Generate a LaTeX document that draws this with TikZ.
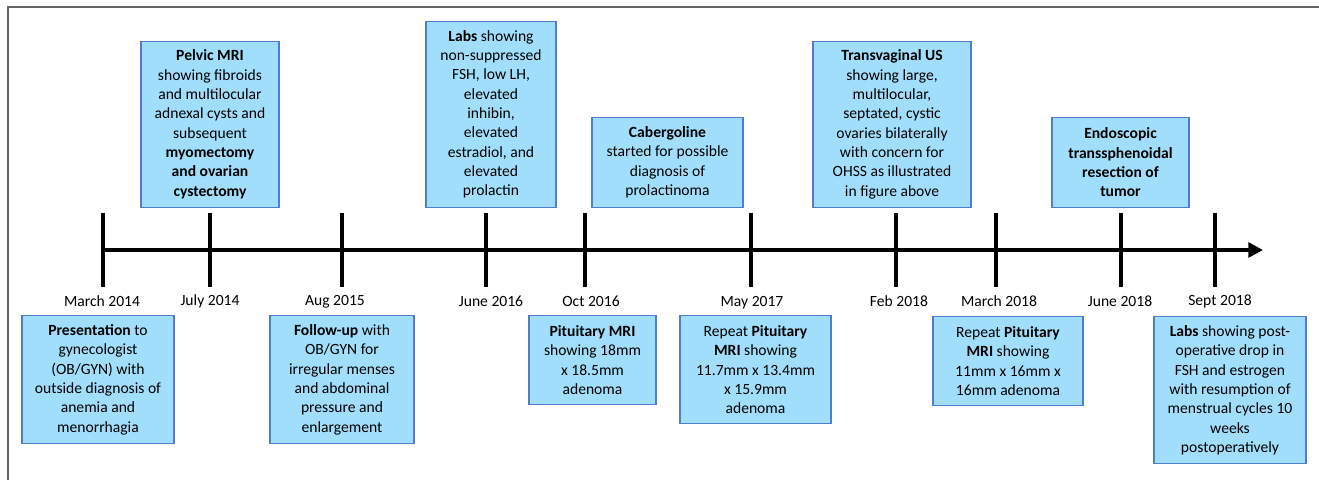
\documentclass[tikz,border=0pt]{standalone}
\usepackage{fontspec}
\setmainfont{Carlito}
\usepackage{xcolor}
\usetikzlibrary{arrows.meta,positioning}
\definecolor{eventfill}{RGB}{160, 222, 251}
\definecolor{eventdraw}{RGB}{79, 124, 205}
\definecolor{framegray}{RGB}{102, 102, 102}
\newcommand{\px}{0.75pt}

\begin{document}
\begin{tikzpicture}[x=0.75pt, y=-0.75pt,
    event/.style={draw=eventdraw, fill=eventfill, line width=1pt, align=center,
                  inner sep=2pt, font=\fontsize{11.7}{14.5}\selectfont},
    datelabel/.style={font=\fontsize{11.7}{14.5}\selectfont, inner sep=1pt},
    tick/.style={line width=3pt}]
  \useasboundingbox (0,0) rectangle (1319,480);
  \draw[framegray, line width=1.5pt] (8,480) -- (8,7) -- (1319,7);

  % timeline
  \coordinate (tstart) at (103,250);
  \coordinate (tend) at (1263,250);
  \draw[line width=3pt, -{Triangle[length=11pt, width=11pt]}] (tstart) -- (tend);
  \foreach \x in {103,210,342,486,585,751,896,996,1121,1215}
    \draw[tick] (\x,213) -- (\x,287);

  % dates
  \node[datelabel] (mar14) at (102,301) {March 2014};
  \node[datelabel] (jul14) at (210,301) {July 2014};
  \node[datelabel] (aug15) at (335,302) {Aug 2015};
  \node[datelabel] (jun16) at (491,301) {June 2016};
  \node[datelabel] (oct16) at (591,301) {Oct 2016};
  \node[datelabel] (may17) at (752,303) {May 2017};
  \node[datelabel] (feb18) at (899,301) {Feb 2018};
  \node[datelabel] (mar18) at (999,301) {March 2018};
  \node[datelabel] (jun18) at (1120,301) {June 2018};
  \node[datelabel] (sep18) at (1220,301) {Sept 2018};

  % events above the line
  \node[event, anchor=south, minimum width=138*\px, minimum height=166*\px] (pelvic) at (210,208)
    {\textbf{Pelvic MRI}\\showing fibroids\\and multilocular\\adnexal cysts and\\subsequent\\
     \textbf{myomectomy}\\\textbf{and ovarian}\\\textbf{cystectomy}};
  \node[event, anchor=south, minimum width=130*\px, minimum height=186*\px] (labsA) at (491,208)
    {\textbf{Labs} showing\\non-suppressed\\FSH, low LH,\\elevated\\inhibin,\\elevated\\
     estradiol, and\\elevated\\prolactin};
  \node[event, anchor=south, minimum width=151*\px, minimum height=90*\px] (caber) at (667.5,208)
    {\textbf{Cabergoline}\\started for possible\\diagnosis of\\prolactinoma};
  \node[event, anchor=south, minimum width=158*\px, minimum height=166*\px] (tvus) at (892,208)
    {\textbf{Transvaginal US}\\showing large,\\multilocular,\\septated, cystic\\
     ovaries bilaterally\\with concern for\\OHSS as illustrated\\in figure above};
  \node[event, anchor=south, minimum width=137*\px, minimum height=90*\px] (endo) at (1120.5,208)
    {\textbf{Endoscopic}\\\textbf{transsphenoidal}\\\textbf{resection of}\\\textbf{tumor}};

  % events below the line
  \node[event, anchor=north, minimum width=152*\px, minimum height=128*\px] (present) at (98,315)
    {\textbf{Presentation} to\\gynecologist\\(OB/GYN) with\\outside diagnosis of\\anemia and\\menorrhagia};
  \node[event, anchor=north, minimum width=144*\px, minimum height=128*\px] (followup) at (342,315)
    {\textbf{Follow-up} with\\OB/GYN for\\irregular menses\\and abdominal\\pressure and\\enlargement};
  \node[event, anchor=north, minimum width=127*\px, minimum height=89*\px] (pitmri) at (592.5,315)
    {\textbf{Pituitary MRI}\\showing 18mm\\x 18.5mm\\adenoma};
  \node[event, anchor=north, minimum width=151*\px, minimum height=108*\px] (repeatA) at (755.5,315)
    {Repeat \textbf{Pituitary}\\\textbf{MRI} showing\\11.7mm x 13.4mm\\x 15.9mm\\adenoma};
  \node[event, anchor=north, minimum width=150*\px, minimum height=89*\px] (repeatB) at (1008,316)
    {Repeat \textbf{Pituitary}\\\textbf{MRI} showing\\11mm x 16mm x\\16mm adenoma};
  \node[event, anchor=north, minimum width=152*\px, minimum height=147*\px] (labsB) at (1230,316)
    {\textbf{Labs} showing post-\\operative drop in\\FSH and estrogen\\with resumption of\\
     menstrual cycles 10\\weeks\\postoperatively};
\end{tikzpicture}
\end{document}
